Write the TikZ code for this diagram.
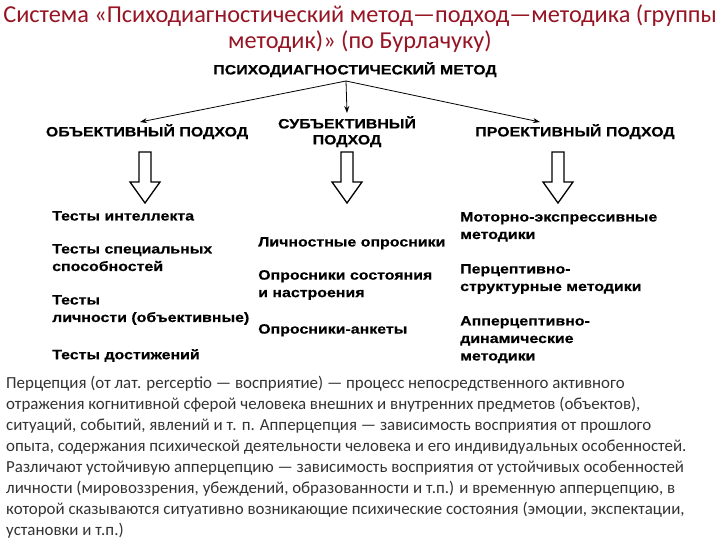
\documentclass[tikz,border=0pt]{standalone}
\usepackage{fontspec}
\setmainfont{Carlito}
\newfontfamily\diagfont[FakeStretch=1.18,BoldFeatures={FakeBold=0.4}]{Liberation Sans}
\usetikzlibrary{arrows.meta,positioning}
\definecolor{ttl}{RGB}{150,20,35}
\definecolor{para}{RGB}{50,50,50}

\tikzset{
  head/.style={font=\diagfont\bfseries\fontsize{13.5}{16}\selectfont,inner sep=0pt,align=center},
  item/.style={font=\diagfont\bfseries\fontsize{13.5}{17.5}\selectfont,inner sep=0pt,anchor=north west,align=left},
  blockarrow/.style={draw=black,line width=1.3pt,fill=white,line join=miter}
}

\begin{document}
\begin{tikzpicture}[x=1pt,y=-1pt]
  \useasboundingbox (0,0) rectangle (720,540);
  % title
  \node[font=\fontsize{24.3}{26}\selectfont,text=ttl,align=center,inner sep=0pt,anchor=north] (title) at (360,5)
    {Система «Психодиагностический метод—подход—методика (группы\\ методик)» (по Бурлачуку)};
  % tree
  \node[head,anchor=north] (pdm) at (355,62) {ПСИХОДИАГНОСТИЧЕСКИЙ МЕТОД};
  \node[head,anchor=north] (obj) at (147,124) {ОБЪЕКТИВНЫЙ ПОДХОД};
  \node[head,anchor=north] (subj) at (347,116) {СУБЪЕКТИВНЫЙ\\ ПОДХОД};
  \node[head,anchor=north] (proj) at (575,124) {ПРОЕКТИВНЫЙ ПОДХОД};
  \coordinate (root) at (346,81);
  \draw[-{Stealth[length=7pt,width=5pt]},thick] (root) -- ([xshift=-7pt,yshift=2pt]obj.north);
  \draw[-{Stealth[length=7pt,width=5pt]},thick] (root) -- ([yshift=3pt]subj.north);
  \draw[-{Stealth[length=7pt,width=5pt]},thick] (root) -- ([xshift=-35pt,yshift=2pt]proj.north);
  % block arrows
  \foreach \c in {145,347,558}
    \draw[blockarrow] (\c-6,152) -- (\c+6,152) -- (\c+6,182) -- (\c+15,182) -- (\c,203) -- (\c-15,182) -- (\c-6,182) -- cycle;
  % left column
  \node[item] (l1) at (52,211) {Тесты интеллекта};
  \node[item] (l2) at (52,244) {Тесты специальных\\ способностей};
  \node[item] (l3) at (52,295) {Тесты\\ личности (объективные)};
  \node[item] (l4) at (52,349) {Тесты достижений};
  % middle column
  \node[item] (m1) at (258,237) {Личностные опросники};
  \node[item] (m2) at (258,270) {Опросники состояния\\ и настроения};
  \node[item] (m3) at (258,324) {Опросники-анкеты};
  % right column
  \node[item] (r1) at (460,212) {Моторно-экспрессивные\\ методики};
  \node[item] (r2) at (460,264) {Перцептивно-\\ структурные методики};
  \node[item] (r3) at (460,316) {Апперцептивно-\\ динамические\\ методики};
  % note
  \node[font=\fontsize{16.9}{21.0}\selectfont,text=para,align=left,inner sep=0pt,anchor=north west] (note) at (6,376)
    {Перцепция (от лат. perceptio — восприятие) — процесс непосредственного активного\\
     отражения когнитивной сферой человека внешних и внутренних предметов (объектов),\\
     ситуаций, событий, явлений и т. п. Апперцепция — зависимость восприятия от прошлого\\
     опыта, содержания психической деятельности человека и его индивидуальных особенностей.\\
     Различают устойчивую апперцепцию — зависимость восприятия от устойчивых особенностей\\
     личности (мировоззрения, убеждений, образованности и т.п.) и временную апперцепцию, в\\
     которой сказываются ситуативно возникающие психические состояния (эмоции, экспектации,\\
     установки и т.п.)};
\end{tikzpicture}
\end{document}
